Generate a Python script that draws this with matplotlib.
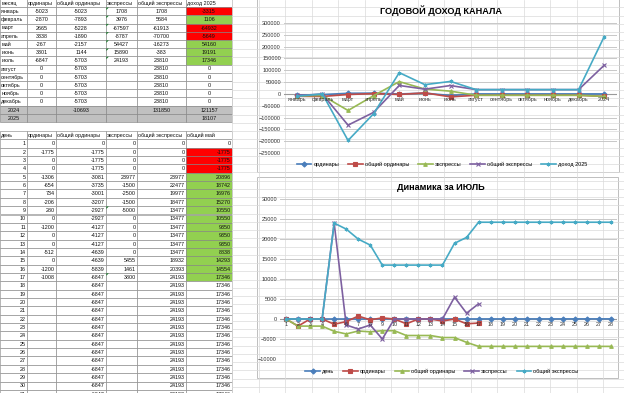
import numpy as np
import matplotlib
matplotlib.use('Agg')
import matplotlib.pyplot as plt
from matplotlib.patches import Rectangle

plt.rcParams['font.family'] = ['Liberation Sans', 'DejaVu Sans']

W, H = 624, 393

# ---- yearly table / chart data ----
months = ['январь', 'февраль', 'март', 'апрель', 'май', 'июнь', 'июль',
          'август', 'сентябрь', 'октябрь', 'ноябрь', 'декабрь']
ord_m = [-5023, -2870, 2665, 3338, -267, 3301, -6847, 0, 0, 0, 0, 0]
ord_total_m = [-5023, -7893, -5228, -1890, -2157, 1144, -5703,
               -5703, -5703, -5703, -5703, -5703]
exp_m = [1708, 3976, -67597, -8787, 54427, 15890, 24193,
         None, None, None, None, None]
exp_total_m = [1708, 5684, -61913, -70700, -16273, -383, 23810,
               23810, 23810, 23810, 23810, 23810]
income_m = [-3315, 1106, -64932, -5649, 54160, 19191, 17346, 0, 0, 0, 0, 0]
row_2024 = [None, -10693, None, 131850, 121157]
row_2025 = [None, None, None, None, 18107]
year_headers = ['месяц', 'ординары', 'общий ординары', 'экспрессы',
                'общий экспрессы', 'доход 2025']

# ---- daily (July) table / chart data ----
days = list(range(1, 32))
ord_d = [0, -1775, 0, 0, -1306, -654, 734, -206, 280, 0, -1200, 0, 0, -512,
         0, -1200, -1008] + [None] * 14
ord_total_d = [0, -1775, -1775, -1775, -3081, -3735, -3001, -3207, -2927,
               -2927, -4127, -4127, -4127, -4639, -4639, -5839, -6847] + [-6847] * 14
exp_d = [0, 0, 0, 0, 23977, -1500, -2500, -1500, -5000, 0, 0, 0, 0, 0,
         5455, 1461, 3800] + [None] * 14
exp_total_d = [0, 0, 0, 0, 23977, 22477, 19977, 18477, 13477, 13477, 13477,
               13477, 13477, 13477, 18932, 20393, 24193] + [24193] * 14
total_d = [0, -1775, -1775, -1775, 20896, 18742, 16976, 15270, 10550, 10550,
           9350, 9350, 9350, 8838, 14293, 14554, 17346] + [17346] * 14
day_headers = ['день', 'ординары', 'общий ординары', 'экспрессы',
               'общий экспрессы', 'общий май']

year_series = ['ординары', 'общий ординары', 'экспрессы', 'общий экспрессы', 'доход 2025']
day_series = ['день', 'ординары', 'общий ординары', 'экспрессы', 'общий экспрессы']
n_days_chart = 28

colors = ['#4A7EBB', '#BE4B48', '#98B954', '#7D60A0', '#46AAC5']
markers = ['D', 's', '^', 'x', (6, 2, 0)]
RED, GREEN, GREY = '#FF0000', '#92D050', '#C0C0C0'

fig = plt.figure(figsize=(W / 100, H / 100), dpi=100)
bg = fig.add_axes([0, 0, 1, 1])
bg.set_xlim(0, W)
bg.set_ylim(H, 0)
bg.axis('off')

# sheet gridlines
gc = '#DADADA'
for x in np.arange(232, W, 26.5):
    bg.plot([x, x], [0, H], color=gc, lw=0.5)
for y in np.arange(-1, H, 8.25):
    bg.plot([232, W], [y, y], color=gc, lw=0.5)

colx = [0, 27, 56, 106, 137, 186, 232]


def fmt(v):
    return '' if v is None else str(v)


def draw_table(top, pitch, rows, fills, aligns, fs=3.9):
    for r, row in enumerate(rows):
        y0 = top + pitch * r
        for c, val in enumerate(row):
            x0, x1 = colx[c], colx[c + 1]
            bg.add_patch(Rectangle((x0, y0), x1 - x0, pitch, facecolor=fills[r][c],
                                   edgecolor='#7F7F7F', lw=0.4))
            a = aligns[r][c]
            tx = {'left': x0 + 1.2, 'right': x1 - 1.2, 'center': (x0 + x1) / 2}[a]
            bg.text(tx, y0 + pitch / 2 + 0.3, fmt(val), fontsize=fs, ha=a,
                    va='center', color='#111111')


# top table
rows1 = [year_headers]
fills1 = [['white'] * 6]
aligns1 = [['left'] * 6]
for i, m in enumerate(months):
    rows1.append([m, ord_m[i], ord_total_m[i], exp_m[i], exp_total_m[i], income_m[i]])
    f = ['white'] * 5
    if i < 7:
        f.append(RED if income_m[i] < 0 else GREEN)
    else:
        f.append('white')
    fills1.append(f)
    aligns1.append(['left'] + ['center'] * 5)
rows1.append(['2024'] + row_2024)
rows1.append(['2025'] + row_2025)
fills1 += [[GREY] * 6, [GREY] * 6]
aligns1 += [['center'] * 6, ['center'] * 6]
draw_table(-1, 8.2, rows1, fills1, aligns1)

# bottom table
rows2 = [day_headers]
fills2 = [['white'] * 6]
aligns2 = [['left'] * 6]
for i, d in enumerate(days):
    rows2.append([d, ord_d[i], ord_total_d[i], exp_d[i], exp_total_d[i], total_d[i]])
    f = ['white'] * 5
    if 0 < i < 17:
        f.append(RED if total_d[i] < 0 else GREEN)
    else:
        f.append('white')
    fills2.append(f)
    aligns2.append(['right'] * 6)
draw_table(131, 8.35, rows2, fills2, aligns2)

# excel error indicators
for r in range(1, 8):
    y0 = -1 + 8.2 * r
    bg.fill([106.3, 108.8, 106.3], [y0 + 0.3, y0 + 0.3, y0 + 2.8], color='#1E7B30', lw=0)
for r in (9, 17):
    y0 = 131 + 8.35 * r
    bg.fill([106.3, 108.8, 106.3], [y0 + 0.3, y0 + 0.3, y0 + 2.8], color='#1E7B30', lw=0)

# chart frames
bg.add_patch(Rectangle((256.5, -1), 362, 173, facecolor='white', edgecolor='#BFBFBF', lw=0.7))
bg.add_patch(Rectangle((257, 177), 361, 201, facecolor='white', edgecolor='#BFBFBF', lw=0.7))


def style_axis(ax, yticks):
    ax.set_facecolor('none')
    for s in ax.spines.values():
        s.set_visible(False)
    ax.set_yticks(yticks)
    ax.set_xticks([])
    ax.tick_params(axis='y', length=0, labelsize=4.1, pad=2.2, labelcolor='#333333')
    ax.grid(axis='y', color='#C8C8C8', lw=0.7)
    ax.set_axisbelow(True)
    ax.axhline(0, color='#9A9A9A', lw=0.8, zorder=1)


# ---- top chart: stacked lines ----
ax1 = fig.add_axes([284 / W, 1 - 153 / H, 333 / W, 130 / H])
cats1 = months + ['2024']
stack_in = np.array([
    ord_m + [row_2024[0]],
    ord_total_m + [row_2024[1]],
    exp_m + [row_2024[2]],
    exp_total_m + [row_2024[3]],
    income_m + [row_2024[4]],
], dtype=float)
stacked = np.cumsum(np.nan_to_num(stack_in), axis=0)
x1 = np.arange(len(cats1))
for k, name in enumerate(year_series):
    ax1.plot(x1, stacked[k], color=colors[k], marker=markers[k], ms=2.6, mew=0.8,
             lw=1.2, label=name, zorder=3 + k)
ax1.set_xlim(-0.5, len(cats1) - 0.5)
ax1.set_ylim(-250000, 300000)
style_axis(ax1, np.arange(-250000, 300001, 50000))
for i, lab in enumerate(cats1):
    ax1.annotate(lab, (i, 0), xytext=(0, -2.5), textcoords='offset points',
                 ha='center', va='top', fontsize=3.9, color='#333333', zorder=10)
ax1.legend(loc='center', bbox_to_anchor=(442 / W, 1 - 164 / H),
           bbox_transform=fig.transFigure, ncol=5, frameon=False, fontsize=4,
           handlelength=2.6, columnspacing=1.6, handletextpad=0.4)
fig.text(441 / W, 1 - 11 / H, 'ГОДОВОЙ ДОХОД КАНАЛА', fontsize=6.6,
         fontweight='bold', ha='center', va='center')

# ---- bottom chart: July dynamics ----
ax2 = fig.add_axes([280 / W, 1 - 359 / H, 337 / W, 160 / H])
day_data = np.array([days, ord_d, ord_total_d, exp_d, exp_total_d], dtype=float)[:, :n_days_chart]
x2 = np.arange(n_days_chart)
for k, name in enumerate(day_series):
    ax2.plot(x2, day_data[k], color=colors[k], marker=markers[k], ms=2.6, mew=0.8,
             lw=1.2, label=name, zorder=3 + k)
ax2.set_xlim(-0.5, n_days_chart - 0.5)
ax2.set_ylim(-10000, 30000)
style_axis(ax2, np.arange(-10000, 30001, 5000))
for i in range(n_days_chart):
    ax2.annotate(str(days[i]), (i, 0), xytext=(0, -2.5), textcoords='offset points',
                 ha='center', va='top', fontsize=3.9, color='#333333', zorder=10)
ax2.legend(loc='center', bbox_to_anchor=(442 / W, 1 - 371 / H),
           bbox_transform=fig.transFigure, ncol=5, frameon=False, fontsize=4,
           handlelength=2.6, columnspacing=1.6, handletextpad=0.4)
fig.text(441 / W, 1 - 187 / H, 'Динамика за ИЮЛЬ', fontsize=6.6,
         fontweight='bold', ha='center', va='center')

fig.savefig('out.png', dpi=100)
